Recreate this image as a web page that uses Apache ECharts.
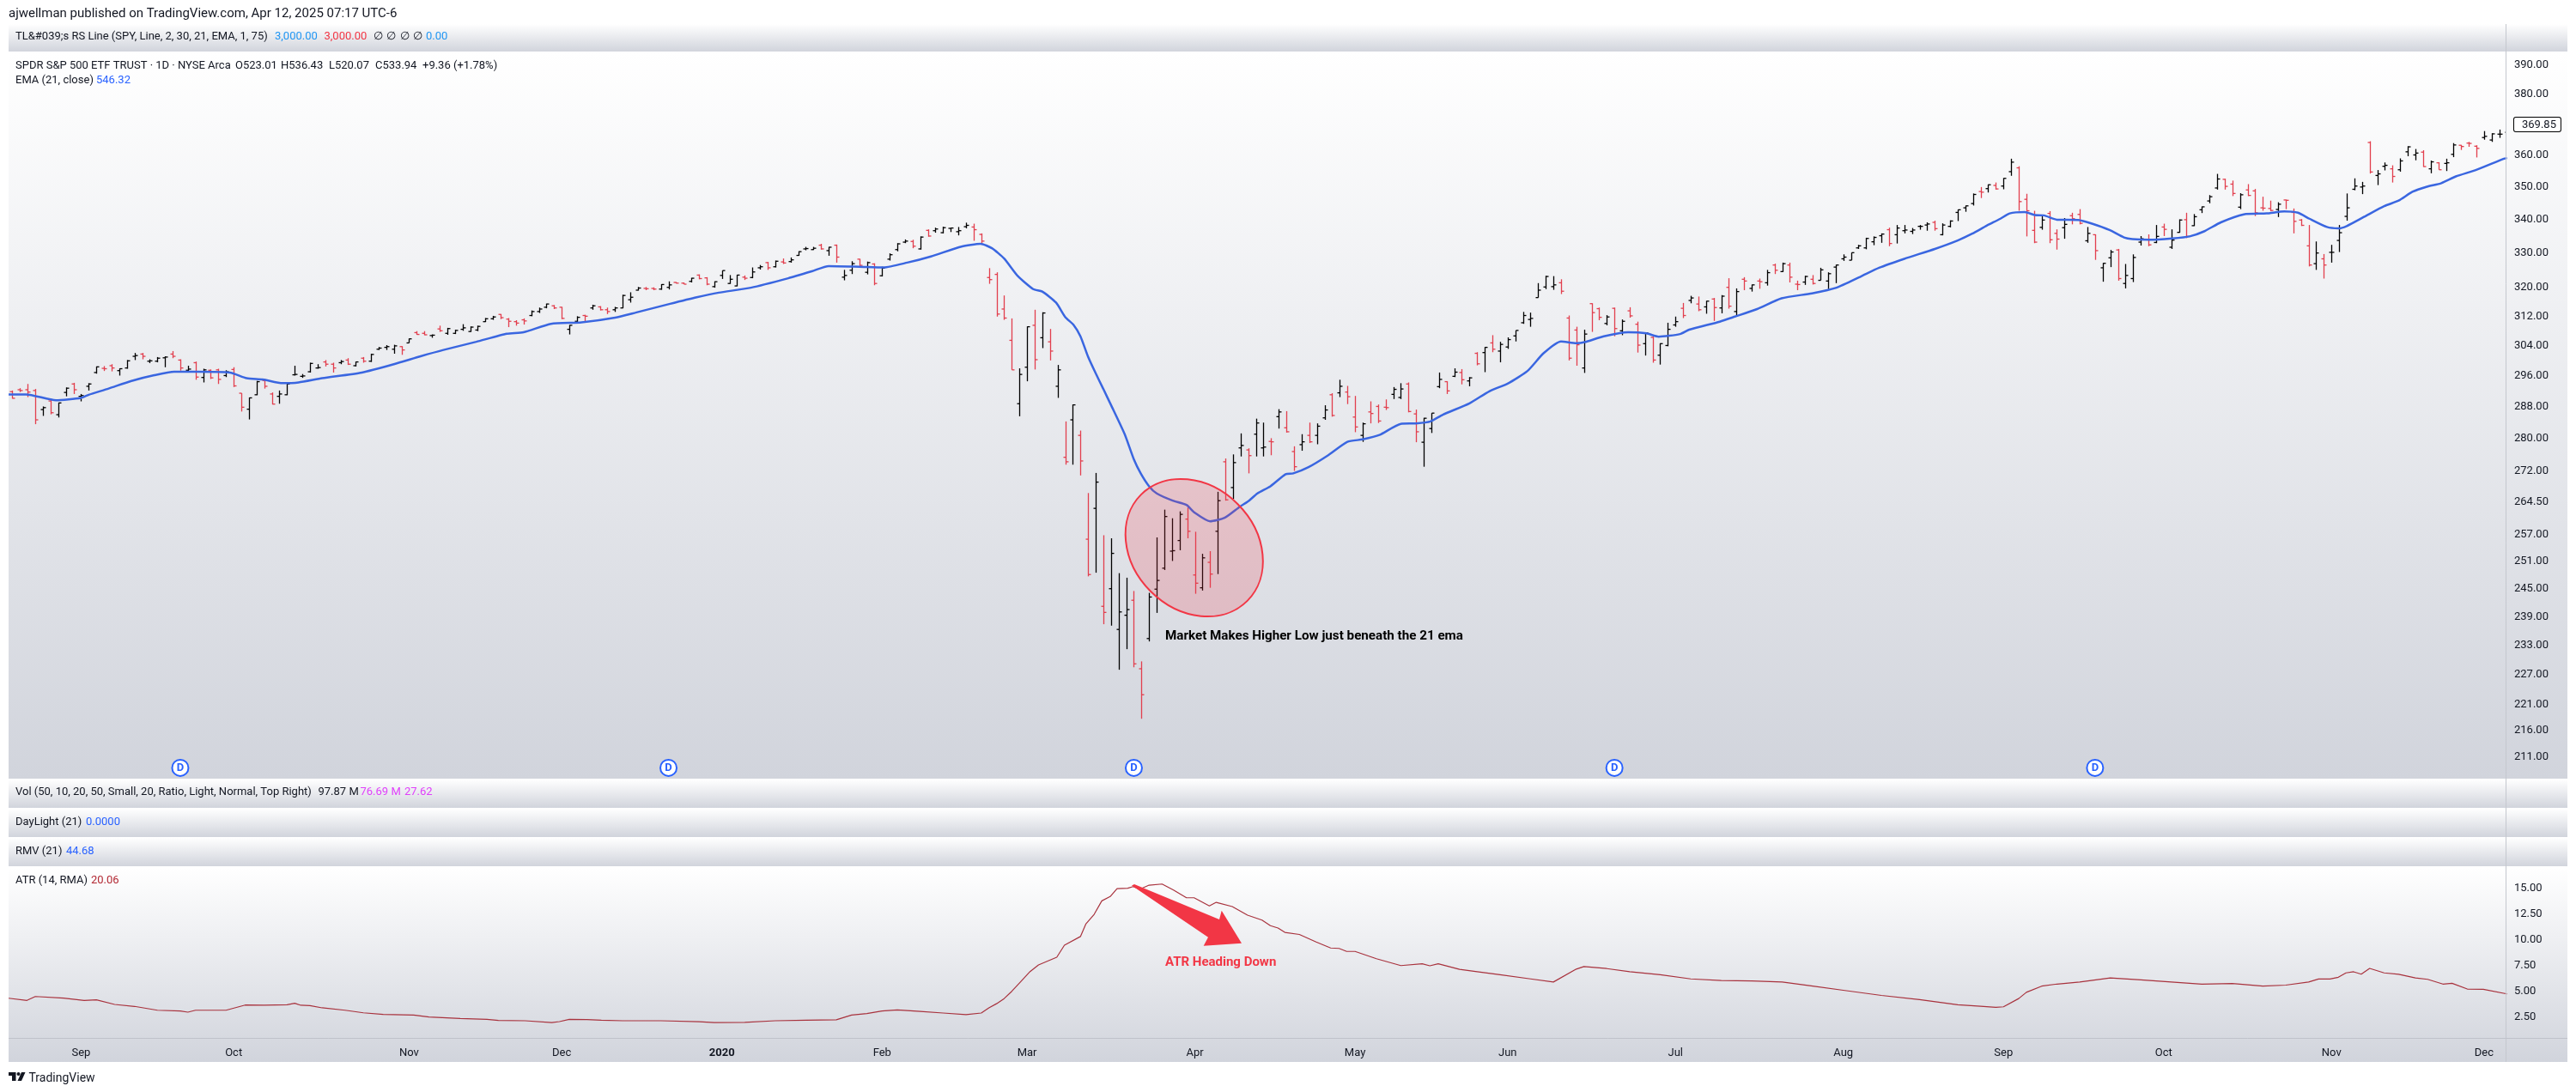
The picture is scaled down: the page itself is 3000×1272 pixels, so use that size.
<!DOCTYPE html>
<html>
<head>
<meta charset="utf-8">
<title>SPY daily bars with 21 EMA and ATR</title>
<style>
    html, body { margin: 0; padding: 0; background: #fff; }
    #chart { width: 3000px; height: 1272px; }
</style>
</head>
<body>
<div id="chart"></div>
<script src="https://cdn.jsdelivr.net/npm/echarts@6/dist/echarts.min.js"></script>
<script type="text/javascript">

    // bar 0 = 20 Aug 2019, bar 327 = 4 Dec 2020
    var opens = [
        291.8,292.3,292.3,292.1,287.2,289.4,285.9,291.6,293.8,290.6,293.2,296.8,297.9,298.6,297.3,298.0,301.1,301.7,299.8,299.8,
        300.7,301.7,300.1,297.4,299.4,295.5,297.4,297.5,296.0,297.6,291.4,287.3,291.0,294.7,291.2,290.6,291.0,296.2,295.8,297.0,
        298.0,299.6,299.0,299.4,300.1,298.6,300.6,299.8,303.0,303.5,303.0,303.7,304.7,307.5,307.3,306.7,308.5,307.3,307.3,308.4,
        307.8,308.2,310.5,311.3,312.5,311.2,310.5,311.0,312.2,313.3,314.5,314.9,314.5,308.4,310.6,312.2,314.3,314.6,313.8,313.8,
        314.3,316.6,319.3,319.8,319.8,319.6,320.1,321.5,321.3,321.8,323.6,322.8,320.3,323.5,321.2,320.5,323.0,322.9,325.7,327.2,
        326.0,327.4,327.5,329.3,331.2,331.0,332.3,330.7,332.3,323.0,325.0,328.2,324.4,326.8,323.4,328.2,331.0,333.2,333.4,331.2,
        336.7,336.6,336.0,337.3,336.3,337.8,337.7,335.5,322.9,323.8,314.0,305.4,288.7,298.2,309.5,306.1,305.0,293.2,275.3,284.6,
        280.7,256.0,263.1,241.2,245.0,236.3,239.3,242.5,228.2,234.4,244.9,249.5,253.3,255.7,260.6,248.0,245.2,250.8,257.8,274.2,
        268.0,277.6,277.1,281.0,277.6,279.2,285.4,282.6,276.7,278.4,280.7,280.7,285.1,291.0,291.5,291.7,285.3,280.7,286.6,288.0,
        287.8,291.1,290.3,293.8,286.1,279.0,282.4,293.1,294.4,295.8,296.8,294.6,301.9,302.1,304.7,302.5,303.6,306.6,310.2,311.1,
        317.2,320.2,320.3,321.4,311.5,308.2,298.0,315.5,314.1,310.0,314.2,308.0,313.5,309.8,304.5,306.2,301.4,304.0,309.6,314.2,
        316.4,315.4,314.6,316.8,314.3,320.1,313.3,322.4,319.8,321.9,321.4,326.5,324.6,326.5,321.0,321.6,322.4,322.1,321.9,325.9,
        328.3,327.9,331.5,331.5,333.3,335.1,336.9,335.4,336.6,336.4,337.9,338.3,339.1,335.4,337.9,342.1,343.5,344.8,348.5,349.4,
        350.4,350.2,354.7,355.9,346.1,336.7,337.6,341.8,335.8,337.5,341.1,341.5,333.6,335.4,325.7,328.6,330.9,321.2,322.6,333.2,
        334.0,333.1,337.7,331.7,336.1,339.9,338.1,342.9,345.6,349.6,352.3,350.8,343.7,349.0,348.7,343.5,343.3,343.0,345.9,342.1,
        339.8,332.1,326.9,328.3,330.2,333.7,340.9,349.2,349.9,364.0,353.5,356.4,355.6,355.3,361.0,360.0,360.9,355.6,357.5,357.3,
        360.2,363.1,363.8,362.8,365.6,364.8,366.7,367.3
    ];
    var highs = [
        292.1,292.7,293.8,292.5,288.0,290.0,289.0,292.9,294.1,291.2,294.0,298.4,298.5,299.0,297.9,300.1,302.0,302.0,300.3,300.9,
        301.1,302.5,300.3,298.6,299.7,297.8,297.6,297.8,297.4,298.2,291.4,290.3,294.6,295.1,291.6,292.1,294.1,298.6,296.4,299.4,
        299.0,300.1,299.4,300.1,300.6,299.7,300.9,301.8,303.6,304.1,304.2,303.8,305.9,307.9,307.9,307.0,309.4,308.8,308.3,309.8,
        309.2,309.4,311.5,312.1,312.6,311.5,310.9,311.4,313.6,314.4,315.5,315.1,314.6,309.6,312.0,312.4,315.2,314.8,314.4,314.6,
        318.0,318.7,320.2,320.2,320.1,321.0,321.8,321.6,321.5,322.8,323.8,323.0,321.8,324.9,323.6,323.7,323.5,325.8,326.5,327.4,
        327.8,328.4,328.7,330.5,331.8,331.8,332.7,331.8,332.5,325.1,327.6,328.3,327.5,327.0,326.0,329.9,332.9,334.0,333.9,334.9,
        337.0,337.5,337.8,337.5,337.7,339.0,338.7,335.8,325.6,324.4,317.8,311.4,297.9,309.2,313.8,313.1,308.5,298.8,284.2,288.5,
        281.9,266.7,271.5,256.9,256.2,248.4,247.4,244.5,229.7,244.1,256.4,262.8,260.8,262.4,263.3,257.7,252.7,253.3,267.0,275.0,
        276.0,281.2,277.5,284.9,283.9,280.0,287.3,286.8,278.0,281.0,283.9,283.7,288.3,291.4,294.9,293.3,290.7,283.9,289.3,288.5,
        289.8,293.0,294.0,294.2,287.2,285.1,286.3,296.8,294.5,297.9,297.7,295.6,302.2,303.6,306.8,305.0,306.2,308.1,313.2,313.0,
        321.3,323.4,323.3,322.4,312.2,309.1,308.3,315.6,314.4,312.3,314.4,311.1,314.5,310.5,307.6,306.4,304.6,310.2,311.9,315.7,
        317.7,317.5,316.3,317.1,317.9,322.7,319.8,323.0,320.9,322.6,325.1,326.9,327.2,327.2,322.0,323.4,323.6,325.7,324.4,326.6,
        329.6,330.1,332.4,334.5,334.9,335.8,337.5,338.3,338.3,337.4,338.3,339.1,339.6,338.8,339.7,343.0,344.2,347.9,349.9,350.7,
        351.3,352.7,358.8,356.4,347.8,342.6,341.4,342.5,337.0,340.4,342.0,343.1,337.7,335.5,327.1,330.9,331.2,326.8,329.6,335.0,
        335.5,338.3,338.7,337.0,340.0,342.0,341.6,343.9,347.4,354.0,352.5,351.9,348.0,350.8,349.3,346.9,345.7,345.2,346.0,343.3,
        340.1,338.3,333.4,329.7,332.4,338.3,347.9,352.6,351.5,364.4,355.2,357.6,356.7,358.9,362.8,361.9,361.5,358.2,357.7,358.8,
        363.8,363.2,364.2,363.1,367.7,367.0,368.2,369.9
    ];
    var lows = [
        290.0,291.7,290.4,283.5,285.6,286.0,285.2,290.6,291.2,289.3,292.1,296.5,297.2,297.1,296.0,297.8,300.1,300.3,299.3,299.5,
        298.2,300.6,297.3,297.1,294.9,294.2,295.1,293.8,295.6,293.0,286.7,284.7,290.9,292.6,288.5,288.7,290.9,296.0,295.4,296.8,
        297.8,298.4,296.8,299.0,298.8,298.4,299.4,299.6,302.8,302.8,301.8,301.5,304.7,306.9,306.8,306.1,307.7,306.9,307.1,308.0,
        307.7,307.9,310.4,311.0,311.2,309.0,309.4,309.7,312.0,312.9,314.2,314.0,311.2,307.0,310.3,310.6,313.8,313.6,312.6,313.2,
        314.2,315.8,319.2,319.3,319.3,319.4,319.5,321.2,321.0,321.5,322.4,320.7,320.0,322.5,321.1,320.4,322.2,322.7,325.2,325.1,
        325.8,326.8,327.2,329.2,330.8,330.9,331.0,329.2,327.2,322.1,323.9,326.2,323.8,320.7,323.2,327.8,330.5,332.9,331.4,331.0,
        334.8,336.0,335.8,336.2,335.2,337.3,333.6,332.6,321.1,311.9,311.0,297.5,285.5,294.5,297.6,303.3,300.0,290.2,273.5,273.5,
        270.9,247.7,248.5,237.4,237.1,228.0,232.2,228.5,218.3,233.8,239.8,249.1,251.1,253.5,256.2,243.9,244.6,245.2,248.2,264.9,
        265.3,275.5,271.4,275.5,275.5,275.8,282.4,281.4,272.0,276.9,278.8,278.5,284.6,285.4,290.4,288.6,281.5,279.1,283.7,283.8,
        287.1,289.9,289.9,286.5,279.0,273.0,281.3,292.7,291.2,295.6,293.7,293.2,298.7,296.9,302.2,299.5,303.1,305.1,309.9,309.1,
        317.2,319.6,319.4,318.2,300.0,298.6,296.7,307.7,310.9,309.5,306.5,306.8,311.6,302.1,301.3,299.4,298.9,303.8,309.1,311.5,
        315.6,313.4,312.7,310.7,312.8,314.1,312.0,319.3,318.9,319.7,320.6,323.9,324.5,321.5,319.3,320.8,320.9,322.1,319.6,321.3,
        327.7,327.9,331.2,331.1,332.3,333.0,332.0,332.8,335.8,335.6,336.9,336.6,336.6,335.2,337.6,339.5,342.3,344.2,346.5,348.2,
        349.1,349.2,353.4,342.6,334.9,332.9,336.9,332.9,331.0,334.2,338.5,338.5,333.0,328.0,321.7,325.9,322.0,319.8,321.6,332.2,
        332.0,332.9,335.0,331.2,336.0,334.4,338.0,341.9,344.9,349.1,349.1,347.1,343.1,347.1,341.0,342.6,342.5,340.7,343.1,335.8,
        338.0,326.1,325.1,322.6,327.2,330.3,339.6,348.9,347.7,354.1,350.5,355.1,351.3,354.7,359.6,358.3,356.2,354.2,355.3,354.9,
        359.3,361.6,362.6,359.2,364.9,364.2,365.5,367.2
    ];
    var closes = [
        290.1,292.1,291.7,284.6,287.7,286.4,288.9,292.7,292.3,290.8,293.8,298.3,297.8,298.0,297.8,299.9,301.3,301.1,299.9,300.6,
        300.9,301.1,298.0,297.7,295.6,297.5,295.4,295.0,297.0,293.3,287.8,290.2,294.4,293.2,288.6,291.2,293.8,296.3,295.9,299.2,
        298.1,299.0,298.0,299.7,299.0,299.6,299.8,301.6,303.3,303.7,303.9,302.8,305.8,307.0,306.9,306.8,308.0,308.6,308.1,308.8,
        309.0,309.2,311.3,311.8,311.6,310.6,310.1,310.7,313.3,314.0,315.4,314.3,311.4,309.5,311.7,312.0,314.9,313.8,313.3,314.3,
        317.8,317.3,319.9,319.7,319.6,320.9,320.8,321.3,321.0,322.7,322.6,321.0,321.7,324.9,322.4,323.6,322.7,324.5,326.0,325.7,
        327.6,327.1,328.0,330.4,331.3,331.4,331.2,331.7,328.8,323.5,326.9,326.4,327.2,321.2,325.6,329.5,332.7,333.5,332.0,334.7,
        335.0,337.1,337.5,337.4,336.6,338.2,336.9,333.5,322.3,312.6,311.5,297.5,296.3,309.1,300.2,312.9,302.5,297.5,274.2,288.4,
        274.4,248.1,269.3,239.9,252.8,240.0,240.5,229.2,223.0,243.2,246.8,261.2,253.4,261.7,257.8,246.2,251.8,248.2,264.9,265.1,
        274.0,278.2,275.7,283.8,277.8,279.1,286.6,281.6,273.0,279.1,279.1,283.0,287.1,285.7,293.2,290.5,282.8,283.6,286.2,284.3,
        287.7,292.4,292.5,286.7,281.6,285.0,286.3,295.0,292.0,296.9,294.9,295.4,299.1,303.5,303.0,304.3,305.6,308.1,312.2,311.4,
        319.3,323.2,320.8,319.0,300.6,304.2,307.1,313.0,311.7,311.8,308.6,310.6,312.1,304.1,307.4,300.1,304.5,308.4,310.5,312.2,
        317.1,313.8,316.2,314.4,317.6,314.8,318.9,321.9,320.8,321.7,324.3,325.0,326.9,323.0,320.9,323.2,321.2,325.1,324.0,326.5,
        328.8,330.1,332.1,334.3,334.6,335.6,332.8,337.4,336.8,336.8,337.9,338.6,337.2,338.3,339.5,342.9,344.1,347.6,348.3,350.6,
        349.3,352.6,357.7,345.4,342.6,333.2,339.8,333.9,334.1,338.5,340.2,338.8,335.8,330.7,327.0,330.3,322.6,323.5,328.7,334.2,
        332.4,334.9,337.0,333.8,339.8,334.9,340.8,343.8,346.9,352.4,350.1,347.9,347.5,347.3,342.0,343.4,342.7,344.6,345.8,339.4,
        338.2,326.5,330.0,326.5,330.2,336.0,343.5,350.2,350.2,354.6,354.0,356.7,353.2,358.1,362.6,360.6,356.3,357.8,355.3,357.5,
        363.2,362.7,363.7,362.1,366.0,366.8,366.7,369.9
    ];

    var emaBars = [-0.5,1.8,5.7,9,10,12.6,15.6,18.6,21.2,24.2,28.5,30.7,32.8,35.4,37.5,40.6,45.8,50,53.5,56.5,60.8,64.8,67,70.6,74.6,79,81.7,86.1,89.7,92.6,96.8,101.7,104.8,107,111,114.2,117.3,120.4,124.4,126.9,128.4,130,131.8,133.8,135,136.8,138,139.1,140,141,142,143,144,145.8,147,147.9,149,150,152.1,153.9,154.9,157,158.9,160.9,162.1,163.2,164.9,166.9,167.9,169.9,172.4,175,177,179.2,182,184,185.9,187.5,191,193.6,196,198.6,200.7,203,205,206.1,208.6,211.8,214.2,215.8,218.6,219.8,223.8,225.8,228.7,231.9,235.9,239.1,242.3,244.7,248,252,255,256.9,258.8,260.6,261.8,263.8,265.1,266.3,268,270.8,272.6,274.9,276.8,277.9,280.1,283.1,285.4,287.3,289.5,292.5,295.5,297.8,299.6,301.1,303.4,304.9,306,308.3,310.9,312.8,314.6,316.5,318.4,320.3,322.9,326.6,327];
    var emaValues = [291.1,291.1,289.6,290.2,291,292.6,294.6,296.1,297,297,296.8,295.3,295,294,294.2,295.3,296.8,299,301.1,302.8,305,307.2,307.6,309.9,310.3,311.6,313,315.4,317.3,318.6,320,322.7,324.7,326.2,326,325.8,327.2,329,331.9,332.7,331.4,328.4,323.3,319.6,318.9,315.8,311.8,309.6,306.5,301,296.6,292.5,288.4,281,274.8,271.4,268.3,266.6,264.9,263.9,262.2,260.1,260.9,263.5,264.9,266.6,268.3,271.2,271.4,272.9,275.7,279.1,279.7,280.8,283.6,283.7,284.2,285.9,288.8,291.9,293.9,297.2,301.9,305.1,304.6,304.9,306.5,307.6,307.3,306.4,307.1,308.3,310.5,311.9,314,317,318.4,320,323.2,325.7,328.3,331.2,333.7,335.7,338.1,340.2,341.8,342.2,341.3,341.2,339.9,339.8,338.7,336.8,334.6,334.1,333.9,334.3,334.9,336.4,339.1,341.5,341.8,342.4,342,340.2,337.7,337.3,338,340.8,344,345.7,348.4,350,351.1,353.2,355.2,358.8,359];

    var atrBars = [-0.5,1.9,3,6.7,9.4,11,13.4,16,19,22,23,24,28,30.5,33,36,37,37.8,39,40.6,43.6,46,48.6,52.6,54.6,58.7,62.2,63.7,67.2,70.7,71.7,73,75.3,77.2,80,85,90,92,96,100,104,108,110,112,114,116,119,122,125,127,128,129,130,131,132,133.4,134.5,136.9,137.9,140,140.7,141.8,142.8,143.9,144.8,146.2,146.9,147.8,149,150.7,152.2,153.9,154.9,156.9,157.8,159.9,161.9,163.8,164.9,165.9,166.8,168.7,170.9,172.8,173.9,174.9,176,178.8,182,184.8,185.8,186.9,189.7,192,195,199,202,205,206,209,212,216,220,224,228,232,236,240,245,250,255,258,260,261,263,264,266,268,271,275,279,283,287,291,295,298,301,302.3,303.8,304.9,305.9,306.9,307.9,309,310.9,312.8,315,316.6,318.6,319.8,321.8,323.9,327];
    var atrValues = [4.33,4.12,4.5,4.34,4.12,4.17,3.73,3.54,3.17,3.09,2.98,3.17,3.17,3.67,3.65,3.7,3.84,3.65,3.62,3.4,3.17,2.92,2.76,2.7,2.51,2.37,2.29,2.18,2.15,1.98,2.07,2.29,2.26,2.2,2.15,2.15,2.05,1.98,2,2.15,2.2,2.25,2.7,2.85,3.1,3.2,3.05,2.9,2.75,2.9,3.4,3.8,4.3,5,5.8,6.91,7.55,8.3,9.46,10.3,11.5,12.45,13.75,14.17,14.94,14.97,15.13,14.88,15.27,15.38,14.8,14.05,14.05,13.26,13.61,13.2,12.37,11.89,11.35,11.12,10.7,10.5,9.77,9.19,9.15,8.86,8.86,8.15,7.49,7.66,7.47,7.66,7.13,6.9,6.6,6.2,5.9,7.15,7.4,7.2,6.9,6.6,6.2,6.05,6,5.9,5.5,5.1,4.6,4.2,3.7,3.55,3.45,3.5,4.3,4.9,5.5,5.7,5.9,6.3,6.1,5.9,5.7,5.75,5.5,5.6,5.9,6.19,6.19,6.36,6.78,6.89,6.66,7.22,6.78,6.64,6.3,6.16,5.7,5.78,5.22,5.2,4.75];

    var dividendBars = [22, 86, 147, 210, 273];
    var dividendLevel = 209.0;

    var monthBars = [9, 29, 52, 72, 93, 114, 133, 155, 176, 196, 218, 240, 261, 282, 304, 324];
    var monthLabels = ['Sep', 'Oct', 'Nov', 'Dec', '2020', 'Feb', 'Mar', 'Apr', 'May', 'Jun', 'Jul', 'Aug', 'Sep', 'Oct', 'Nov', 'Dec'];
    var priceTicks = [390, 380, 369.85, 360, 350, 340, 330, 320, 312, 304, 296, 288, 280, 272, 264.5, 257, 251, 245, 239, 233, 227, 221, 216, 211];
    var lastPrice = 369.85;
    var atrTicks = [2.5, 5, 7.5, 10, 12.5, 15];

    var FONT = 'Roboto';
    var TEXT = '#131722';
    var RED = '#e23f4e';
    var ALERT = '#f23645';
    var BLUE = '#2962ff';

    function paneGradient() {
        return new echarts.graphic.LinearGradient(0, 0, 0, 1, [
            { offset: 0, color: '#ffffff' },
            { offset: 1, color: '#d1d4dc' }
        ]);
    }

    function pane(y, h) {
        return { type: 'rect', z: -10, silent: true, shape: { x: 10, y: y, width: 2980, height: h }, style: { fill: paneGradient() } };
    }

    function label(x, y, str, color, extra) {
        var style = { x: x, y: y, text: str, fill: color || TEXT, font: '13px ' + FONT, textVerticalAlign: 'middle' };
        if (extra) {
            for (var k in extra) { style[k] = extra[k]; }
        }
        return { type: 'text', z: 50, silent: true, style: style };
    }

    var barsData = opens.map(function (o, i) {
        return [i, o, highs[i], lows[i], closes[i]];
    });

    // one OHLC bar: stem, open tick to the left, close tick to the right
    function renderBar(params, api) {
        var x = api.value(0);
        var open = api.coord([x, api.value(1)]);
        var high = api.coord([x, api.value(2)]);
        var low = api.coord([x, api.value(3)]);
        var close = api.coord([x, api.value(4)]);
        var color = api.value(4) >= api.value(1) ? '#000000' : RED;
        var style = { stroke: color, lineWidth: 1.3, fill: null };
        var px = Math.round(high[0]) + 0.5;
        return {
            type: 'group',
            children: [
                { type: 'line', shape: { x1: px, y1: high[1], x2: px, y2: low[1] }, style: style },
                { type: 'line', shape: { x1: px - 3, y1: open[1], x2: px, y2: open[1] }, style: style },
                { type: 'line', shape: { x1: px, y1: close[1], x2: px + 3, y2: close[1] }, style: style }
            ]
        };
    }

    var chart = echarts.init(document.getElementById('chart'), null, { renderer: 'canvas' });

    var graphics = [
        pane(28, 32), pane(60, 847), pane(908, 33), pane(942, 33), pane(976, 33), pane(1010, 227),
        { type: 'line', z: 40, silent: true, shape: { x1: 2918.5, y1: 28, x2: 2918.5, y2: 1237 }, style: { stroke: '#c4c7ce', lineWidth: 1 } },
        { type: 'line', z: 40, silent: true, shape: { x1: 10, y1: 1209.5, x2: 2990, y2: 1209.5 }, style: { stroke: '#bfc2ca', lineWidth: 1 } },

        label(10, 16, 'ajwellman published on TradingView.com, Apr 12, 2025 07:17 UTC-6', TEXT, { font: '15px ' + FONT }),

        label(18, 43, 'TL&#039;s RS Line (SPY, Line, 2, 30, 21, EMA, 1, 75)'),
        label(320, 43, '3,000.00', '#2196f3'),
        label(377.5, 43, '3,000.00', '#f23645'),
        label(434.5, 43, '∅', TEXT), label(450, 43, '∅', TEXT), label(465.5, 43, '∅', TEXT), label(481, 43, '∅', TEXT),
        label(496, 43, '0.00', '#2196f3'),

        label(18, 77, 'SPDR S&P 500 ETF TRUST · 1D · NYSE Arca'),
        label(274, 77, 'O523.01'), label(327, 77, 'H536.43'), label(383, 77, 'L520.07'), label(437, 77, 'C533.94'), label(492, 77, '+9.36 (+1.78%)'),
        label(18, 94, 'EMA (21, close)'),
        label(112, 94, '546.32', BLUE),

        label(18, 923, 'Vol (50, 10, 20, 50, Small, 20, Ratio, Light, Normal, Top Right)'),
        label(370.5, 923, '97.87 M'),
        label(419.5, 923, '76.69 M', '#e040fb'),
        label(471, 923, '27.62', '#e040fb'),
        label(18, 958, 'DayLight (21)'),
        label(100, 958, '0.0000', BLUE),
        label(18, 992, 'RMV (21)'),
        label(77, 992, '44.68', BLUE),
        label(18, 1026, 'ATR (14, RMA)'),
        label(106, 1026, '20.06', '#b22833'),

        // hand-drawn notes on the original chart
        { type: 'ellipse', z: 30, silent: true, x: 1390.75, y: 638, rotation: -Math.PI / 4,
          shape: { cx: 0, cy: 0, rx: 87.5, ry: 71.8 },
          style: { fill: 'rgba(242,54,69,0.2)', stroke: ALERT, lineWidth: 2 } },
        label(1357, 741, 'Market Makes Higher Low just beneath the 21 ema', '#000000', { font: 'bold 15.2px ' + FONT }),
        { type: 'polygon', z: 30, silent: true,
          shape: { points: [[1318, 1031.5], [1321, 1030], [1420, 1071], [1422.7, 1060.7], [1446, 1098.7], [1401.7, 1101.7], [1407, 1091.7]] },
          style: { fill: ALERT } },
        label(1357, 1121, 'ATR Heading Down', ALERT, { font: 'bold 15px ' + FONT }),

        // TradingView mark in the footer
        { type: 'polygon', z: 30, silent: true, shape: { points: [[10, 1249], [18.5, 1249], [18.5, 1259], [14, 1259], [14, 1253], [10, 1253]] }, style: { fill: '#131722' } },
        { type: 'circle', z: 30, silent: true, shape: { cx: 21.5, cy: 1251, r: 2 }, style: { fill: '#131722' } },
        { type: 'polygon', z: 30, silent: true, shape: { points: [[25, 1249], [29.5, 1249], [25, 1259], [20.5, 1259]] }, style: { fill: '#131722' } },
        label(33.5, 1256, 'TradingView', TEXT, { font: '14px ' + FONT })
    ];

    chart.setOption({
        animation: false,
        backgroundColor: '#ffffff',
        graphic: { elements: graphics },
        grid: [
            { left: 10, right: 82, top: 60, height: 847 },
            { left: 10, right: 82, top: 1010, height: 199 }
        ],
        xAxis: [
            {
                type: 'value', gridIndex: 0, min: -0.5065, max: 326.82,
                axisLine: { show: false }, axisTick: { show: false }, axisLabel: { show: false }, splitLine: { show: false }
            },
            {
                type: 'value', gridIndex: 1, min: -0.5065, max: 326.82,
                axisLine: { show: false }, axisTick: { show: false }, splitLine: { show: false },
                axisLabel: {
                    customValues: monthBars,
                    margin: 11,
                    fontFamily: FONT, fontSize: 13, color: TEXT,
                    formatter: function (v) {
                        var s = monthLabels[monthBars.indexOf(v)];
                        return s === '2020' ? '{year|2020}' : s;
                    },
                    rich: { year: { fontFamily: FONT, fontSize: 13, fontWeight: 'bold', color: TEXT } }
                }
            }
        ],
        yAxis: [
            {
                type: 'log', gridIndex: 0, position: 'right', min: 207, max: 394.6,
                axisLine: { show: false }, axisTick: { show: false }, splitLine: { show: false },
                axisLabel: {
                    customValues: priceTicks,
                    margin: 10,
                    fontFamily: FONT, fontSize: 13, color: TEXT,
                    formatter: function (v) {
                        var s = Number(v).toFixed(2);
                        return Math.abs(v - lastPrice) < 0.01 ? '{last|' + s + '}' : s;
                    },
                    rich: {
                        last: {
                            fontFamily: FONT, fontSize: 13, color: TEXT, backgroundColor: '#ffffff',
                            borderColor: '#000000', borderWidth: 1, borderRadius: 2,
                            padding: [2, 5, 1, 9]
                        }
                    }
                }
            },
            {
                type: 'value', gridIndex: 1, position: 'right', min: 0.49, max: 17.02,
                axisLine: { show: false }, axisTick: { show: false }, splitLine: { show: false },
                axisLabel: {
                    customValues: atrTicks,
                    margin: 10,
                    fontFamily: FONT, fontSize: 13, color: TEXT,
                    formatter: function (v) { return Number(v).toFixed(2); }
                }
            }
        ],
        series: [
            {
                name: 'SPY', type: 'custom', xAxisIndex: 0, yAxisIndex: 0, clip: true,
                renderItem: renderBar,
                encode: { x: 0, y: [1, 2, 3, 4] },
                data: barsData
            },
            {
                name: 'EMA (21, close)', type: 'line', xAxisIndex: 0, yAxisIndex: 0,
                showSymbol: false, smooth: 0.2, z: 4,
                lineStyle: { color: '#3a66e0', width: 2.5 },
                data: emaBars.map(function (b, i) { return [b, emaValues[i]]; })
            },
            {
                name: 'Dividends', type: 'scatter', xAxisIndex: 0, yAxisIndex: 0,
                symbol: 'circle', symbolSize: 19, z: 5,
                itemStyle: { color: '#ffffff', borderColor: BLUE, borderWidth: 2, opacity: 1 },
                label: { show: true, position: 'inside', formatter: 'D', color: BLUE, fontFamily: FONT, fontSize: 13, fontWeight: 'bold' },
                data: dividendBars.map(function (b) { return [b, dividendLevel]; })
            },
            {
                name: 'ATR (14, RMA)', type: 'line', xAxisIndex: 1, yAxisIndex: 1,
                showSymbol: false, z: 4,
                lineStyle: { color: '#a8323d', width: 1.2 },
                data: atrBars.map(function (b, i) { return [b, atrValues[i]]; })
            }
        ]
    });

</script>
</body>
</html>
